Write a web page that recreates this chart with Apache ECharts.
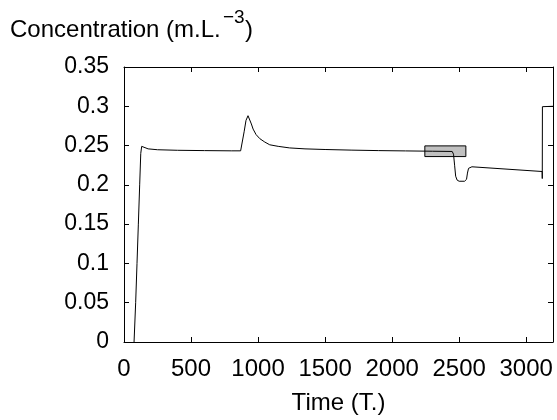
<!DOCTYPE html>
<html>
<head>
<meta charset="utf-8">
<script src="https://cdn.jsdelivr.net/npm/echarts@6/dist/echarts.min.js"></script>
<style>
  html, body { margin: 0; padding: 0; background: #fff; overflow: hidden; }
  #chart { width: 557px; height: 420px; }
</style>
</head>
<body>
<div id="chart"></div>
<script>
// Concentration over time
const timeValues = [
  75, 87, 97, 107, 117, 125, 132, 145, 180, 250, 400, 600, 800, 870,
  880, 896, 910, 925, 935, 950, 963, 985, 1013, 1050, 1087, 1150, 1236,
  1350, 1500, 1700, 1900, 2100, 2300, 2448, 2458, 2466, 2474, 2485, 2500,
  2540, 2555, 2562, 2570, 2580, 2595, 3119, 3120, 3121, 3200
];
const concValues = [
  0, 0.05, 0.10, 0.15, 0.20, 0.240, 0.249, 0.2475, 0.2458, 0.2447, 0.2440, 0.2436, 0.2433, 0.2433,
  0.2455, 0.2675, 0.2820, 0.2880, 0.2860, 0.2775, 0.2710, 0.2640, 0.2588, 0.2545, 0.2510, 0.2490, 0.2470,
  0.2458, 0.2450, 0.2442, 0.2436, 0.2432, 0.2428, 0.2425, 0.2390, 0.2250, 0.2110, 0.2060, 0.2046,
  0.2046, 0.2070, 0.2150, 0.2210, 0.2228, 0.2230, 0.2170, 0.2080, 0.2995, 0.3000
];
// Highlighted window [time start, time end], [conc low, conc high]
const boxTime = [2244, 2550];
const boxConc = [0.236, 0.2496];

const xTicks = { min: 0, max: 3200, interval: 500 };
const yTicks = { min: 0, max: 0.35, interval: 0.05 };

const points = timeValues.map((t, i) => [t, concValues[i]]);
const font = 'Liberation Sans, Arial, sans-serif';

const chart = echarts.init(document.getElementById('chart'), null, { renderer: 'canvas', width: 557, height: 420 });

const baseX = {
  type: 'value', min: xTicks.min, max: xTicks.max, interval: xTicks.interval,
  axisLine: { show: true, onZero: false, lineStyle: { color: '#000', width: 1 } },
  axisTick: { show: true, inside: true, length: 5, lineStyle: { color: '#000' } },
  splitLine: { show: false }
};
const baseY = {
  type: 'value', min: yTicks.min, max: yTicks.max, interval: yTicks.interval,
  axisLine: { show: true, onZero: false, lineStyle: { color: '#000', width: 1 } },
  axisTick: { show: true, inside: true, length: 5, lineStyle: { color: '#000' } },
  splitLine: { show: false }
};

chart.setOption({
  animation: false,
  backgroundColor: '#fff',
  grid: { left: 124, top: 67, width: 429, height: 280 },
  graphic: [
    { type: 'text', left: 10, top: 18,
      style: { text: 'Concentration (m.L.', fontFamily: font, fontSize: 24, fill: '#000' } },
    { type: 'text', left: 223, top: 8,
      style: { text: '−3', fontFamily: font, fontSize: 19, fill: '#000' } },
    { type: 'text', left: 245, top: 18,
      style: { text: ')', fontFamily: font, fontSize: 24, fill: '#000' } }
  ],
  xAxis: [
    Object.assign({}, baseX, {
      position: 'bottom',
      name: 'Time (T.)', nameLocation: 'middle', nameGap: 49,
      nameTextStyle: { fontFamily: font, fontSize: 24, color: '#000' },
      axisLabel: { show: true, margin: 15, fontFamily: font, fontSize: 24, color: '#000', showMaxLabel: false,
        formatter: v => (v % xTicks.interval === 0 ? String(v) : '') }
    }),
    Object.assign({}, baseX, { position: 'top', axisLabel: { show: false } })
  ],
  yAxis: [
    Object.assign({}, baseY, {
      position: 'left',
      axisLabel: { show: true, margin: 15, fontFamily: font, fontSize: 23, color: '#000',
        formatter: v => String(+v.toFixed(2)) }
    }),
    Object.assign({}, baseY, { position: 'right', axisLabel: { show: false } })
  ],
  series: [{
    type: 'line',
    data: points,
    xAxisIndex: 0, yAxisIndex: 0,
    showSymbol: false,
    smooth: false,
    lineStyle: { color: '#000', width: 1 },
    markArea: {
      silent: true,
      itemStyle: { color: '#c0c0c0', borderColor: '#000', borderWidth: 1 },
      data: [[{ coord: [boxTime[0], boxConc[1]] }, { coord: [boxTime[1], boxConc[0]] }]]
    },
    z: 3
  }]
});
</script>
</body>
</html>
